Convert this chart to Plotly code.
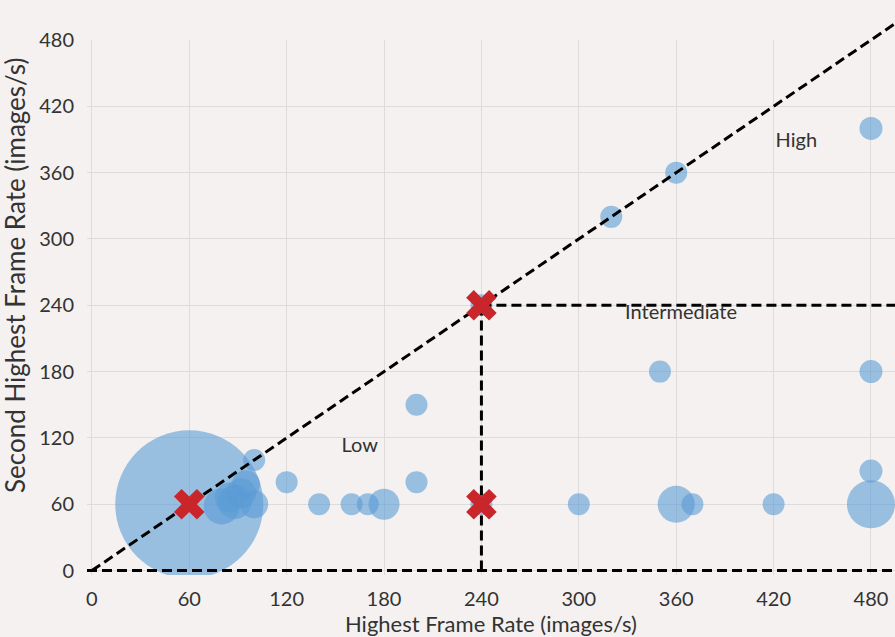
import plotly.graph_objects as go

# Bubble data: (highest frame rate, second highest frame rate, bubble diameter px)
bx = [60, 80, 88, 92, 95, 85, 100, 100, 120, 140, 160, 170, 180, 200, 200, 240, 240,
      300, 320, 350, 360, 360, 370, 420, 480, 480, 480, 480]
by = [60, 58, 62, 70, 78, 66, 60, 100, 80, 60, 60, 60, 60, 80, 150, 60, 240,
      60, 320, 180, 360, 60, 60, 60, 60, 90, 180, 400]
bsize = [148, 36, 34, 30, 28, 30, 28, 22, 22, 22, 22, 22, 31, 22, 22, 22, 22,
         22, 22, 22, 22, 37, 22, 22, 48, 23, 23, 23]

# Threshold markers
mx = [60, 240, 240]
my = [60, 60, 240]

# Region boundary lines
diag_x = [0, 530]
diag_y = [0, 530]
hline_x = [240, 530]
hline_y = [240, 240]
vline_x = [240, 240]
vline_y = [0, 240]
base_x = [-3, 530]
base_y = [0, 0]

labels = ["Low", "Intermediate", "High"]
label_x = [165, 363, 434]
label_y = [112, 232, 388]

ticks = [0, 60, 120, 180, 240, 300, 360, 420, 480]

BG = "#f4f1f0"
FONT = "Lato"
TXT = "#333333"
dash_line = dict(color="black", width=3, dash="10px,5px")

H = 637
T, B, L = 0, 62, 87
plot_h = H - T - B            # 575 px
main_top_px = 40              # pixel row of y=480
y_lo, y_hi = -4, 480
x_lo, x_hi = -3, 494.8
main_frac = (H - B - main_top_px) / plot_h
px_per_y = (H - B - main_top_px) / (y_hi - y_lo)
y2_top = y_lo + plot_h / px_per_y

fig = go.Figure()
fig.add_trace(go.Scatter(
    x=bx, y=by, mode="markers", xaxis="x", yaxis="y",
    marker=dict(size=bsize, color="rgba(91,155,213,0.86)", line=dict(width=0)),
    showlegend=False, hoverinfo="skip"))

for lx, ly in [(diag_x, diag_y), (hline_x, hline_y), (vline_x, vline_y), (base_x, base_y)]:
    fig.add_trace(go.Scatter(x=lx, y=ly, mode="lines", xaxis="x2", yaxis="y2",
                             line=dash_line, showlegend=False, hoverinfo="skip"))

fig.add_trace(go.Scatter(
    x=mx, y=my, mode="markers", xaxis="x2", yaxis="y2",
    marker=dict(symbol="x", size=27, color="#c9262c", line=dict(width=0)),
    showlegend=False, hoverinfo="skip"))

fig.add_trace(go.Scatter(
    x=label_x, y=label_y, mode="text", text=labels, xaxis="x2", yaxis="y2",
    textfont=dict(family=FONT, size=20, color=TXT),
    showlegend=False, hoverinfo="skip"))

fig.update_layout(
    width=895, height=H,
    margin=dict(l=L, r=0, t=T, b=B, autoexpand=False),
    paper_bgcolor=BG, plot_bgcolor="rgba(0,0,0,0)",
    font=dict(family=FONT, size=20, color=TXT),
    xaxis=dict(range=[x_lo, x_hi], tickvals=ticks, showgrid=True, gridcolor="#dcdcdc",
               gridwidth=1, zeroline=False, showline=False, automargin=False, anchor="y",
               ticks="outside", ticklen=6, tickcolor="rgba(0,0,0,0)",
               title=dict(text="Highest Frame Rate (images/s)", font=dict(size=22, color=TXT),
                          standoff=0)),
    yaxis=dict(range=[y_lo, y_hi], domain=[0, main_frac], tickvals=ticks, showgrid=True,
               gridcolor="#dcdcdc", gridwidth=1, zeroline=False, showline=False,
               automargin=False, anchor="x",
               ticks="outside", ticklen=8, tickcolor="rgba(0,0,0,0)"),
    xaxis2=dict(range=[x_lo, x_hi], overlaying="x", anchor="y2", visible=False,
                showgrid=False, automargin=False),
    yaxis2=dict(range=[y_lo, y2_top], domain=[0, 1], anchor="x2", visible=False,
                showgrid=False, automargin=False),
    annotations=[dict(text="Second Highest Frame Rate (images/s)", textangle=-90,
                      xref="paper", yref="paper", x=(15 - L) / 808, y=(H - B - 275) / plot_h,
                      xanchor="center", yanchor="middle", showarrow=False,
                      font=dict(family=FONT, size=26, color=TXT))],
)

fig.write_html("out.html")
